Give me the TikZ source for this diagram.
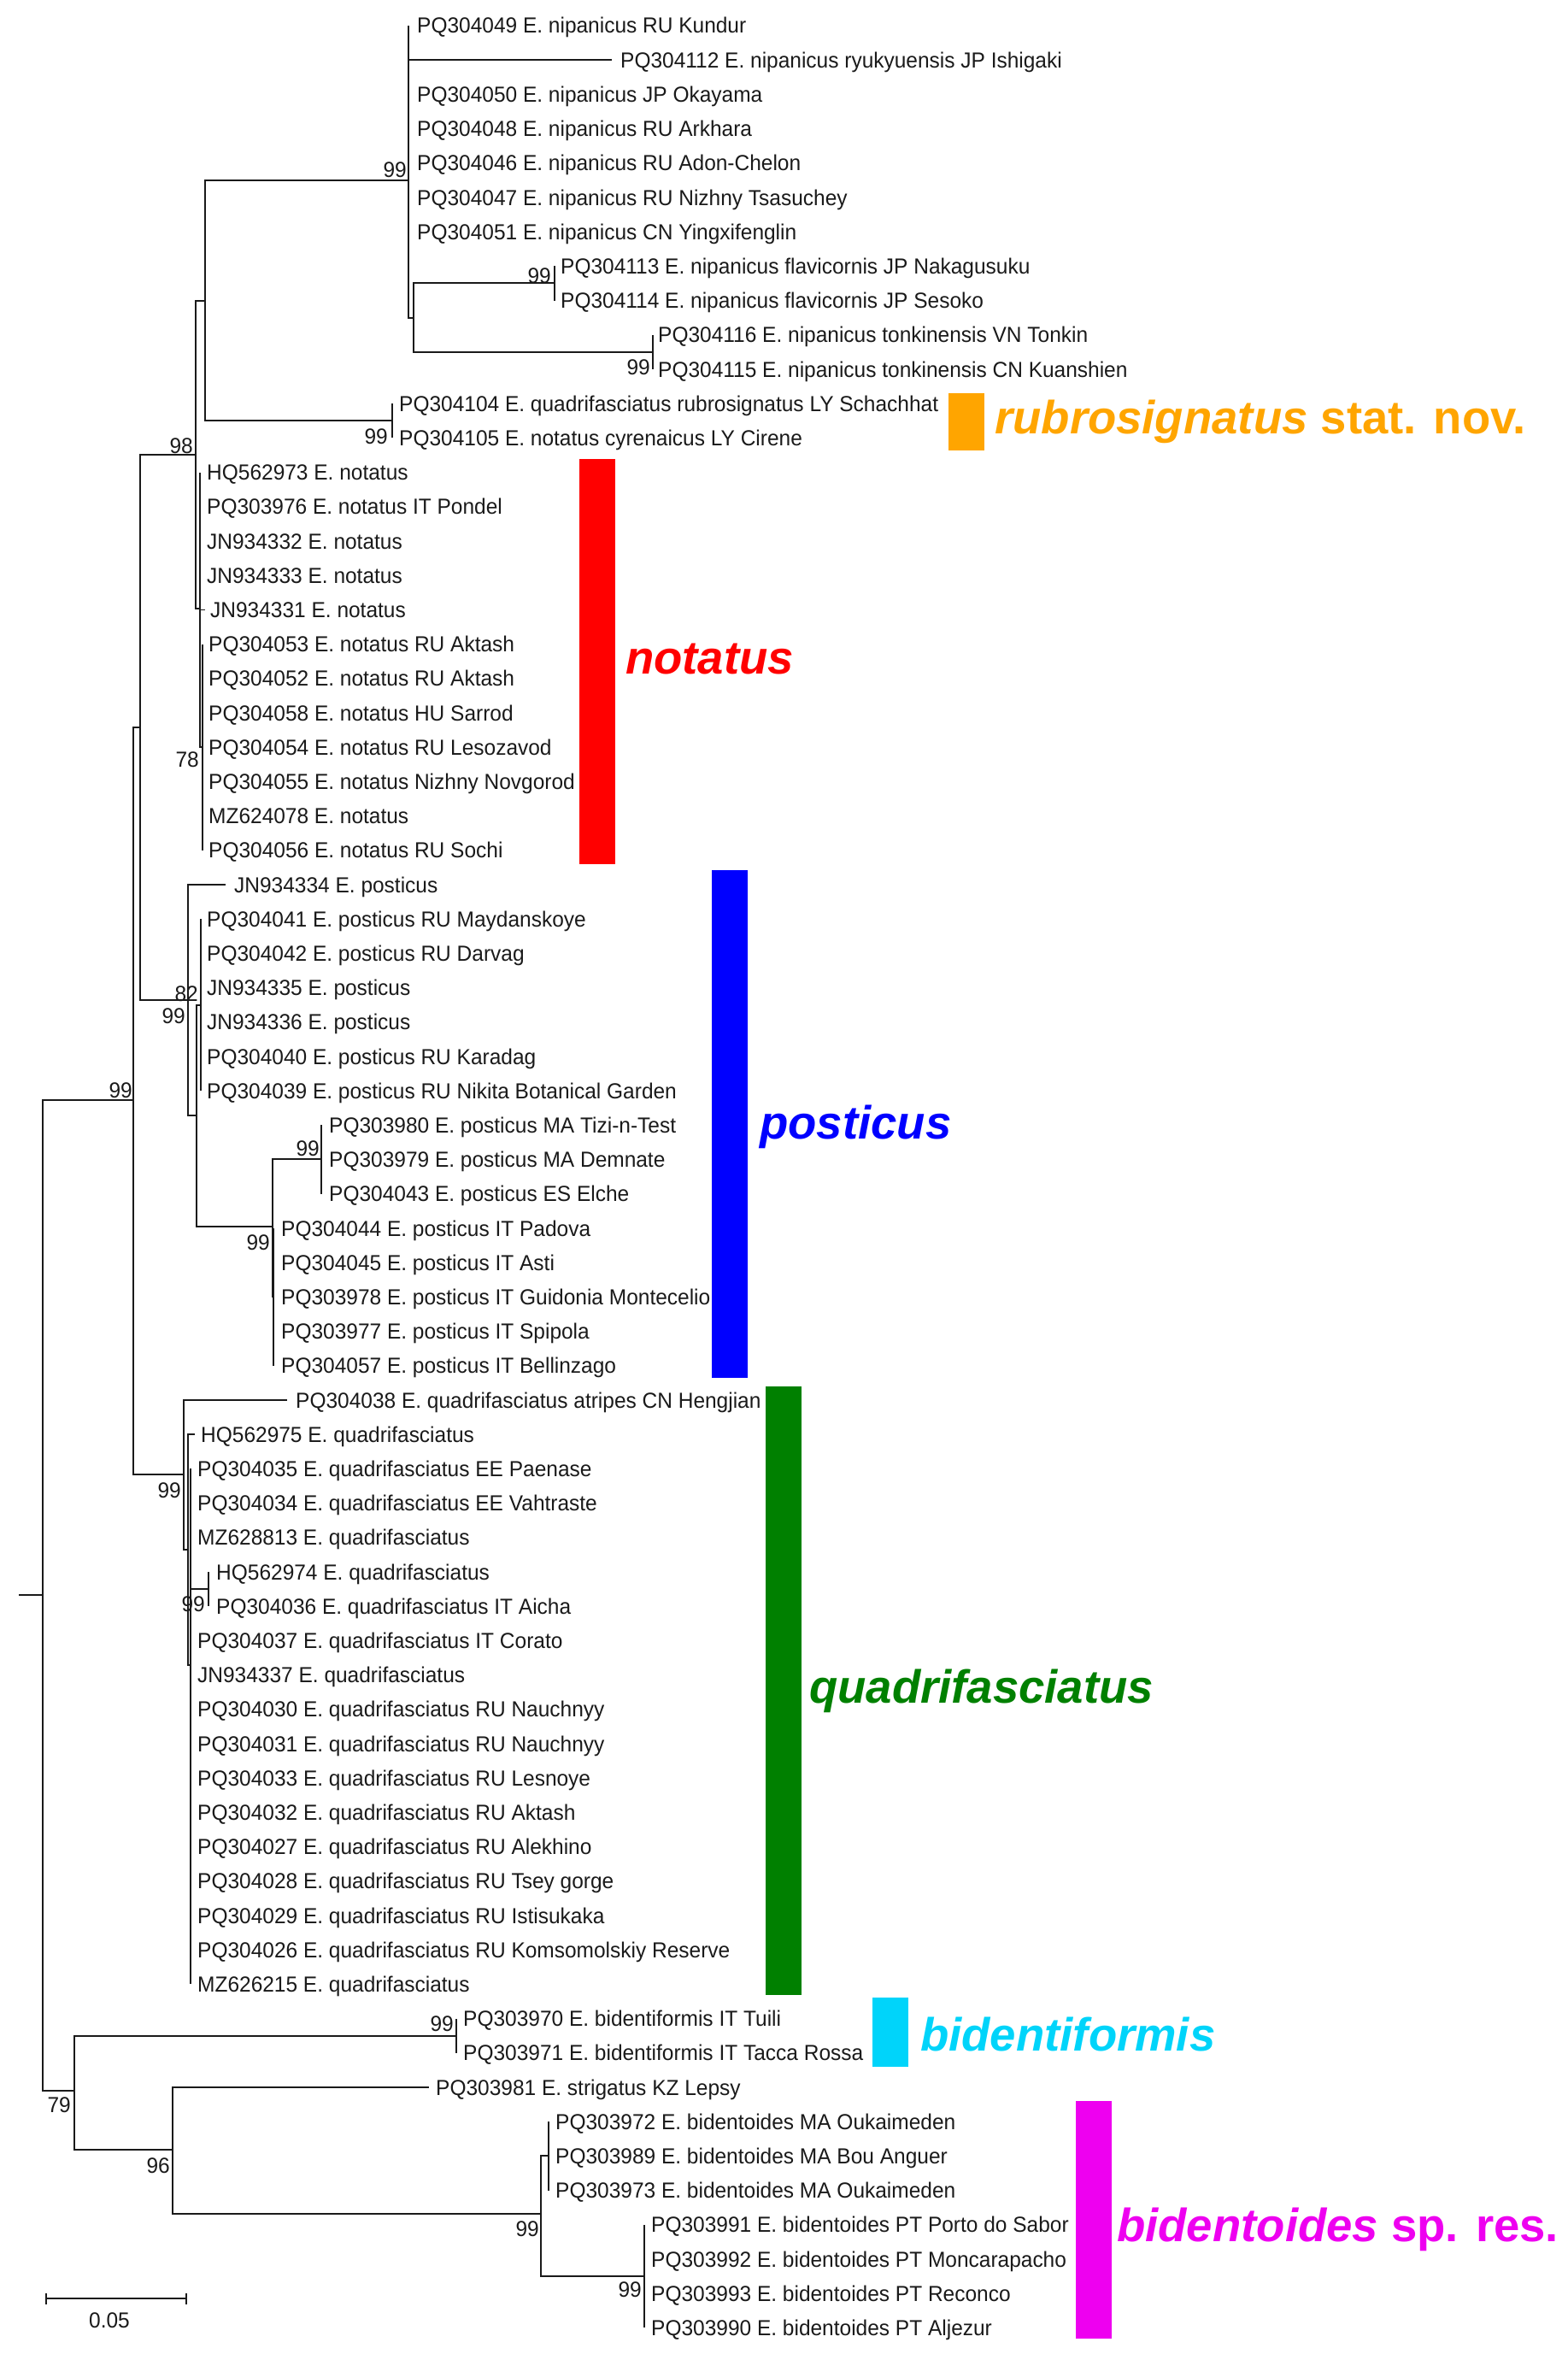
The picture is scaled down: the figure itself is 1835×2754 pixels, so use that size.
\documentclass[tikz,border=0pt]{standalone}
\usepackage{fontspec}
\setmainfont{Liberation Sans}
\newfontfamily\leaffont{Liberation Sans}[FakeStretch=0.96]
\usepackage{tikz}
\usetikzlibrary{positioning,arrows.meta}
\definecolor{RubroOrange}{HTML}{FFA500}
\definecolor{NotatusRed}{HTML}{FF0000}
\definecolor{PosticusBlue}{HTML}{0000FF}
\definecolor{QuadriGreen}{HTML}{008000}
\definecolor{BidfCyan}{HTML}{00D4FA}
\definecolor{BidtMagenta}{HTML}{EE00F0}
\definecolor{TreeInk}{HTML}{1A1A1A}

\begin{document}
\begin{tikzpicture}[x=1pt, y=-1pt,
  branch/.style={draw=TreeInk, line width=1.6pt},
  leaf/.style={anchor=base west, inner sep=0pt, text=TreeInk, font=\leaffont\fontsize{25.5}{28}\selectfont},
  boot/.style={anchor=base east, inner sep=0pt, text=TreeInk, font=\leaffont\fontsize{25.5}{28}\selectfont},
  bar/.style={minimum width=42pt, inner sep=0pt, outer sep=0pt},
  clade/.style={inner sep=0pt, text height=34pt, text depth=6pt, font=\fontsize{54.5}{58}\selectfont\bfseries}]
  \useasboundingbox (0,0) rectangle (1835,2754);

  % internal nodes of the tree
  \foreach \nm/\x/\y in {root/50/1866, n99a/156/1287, p1/164/851, n98/229/532,
      u/240/352, nip/478/211, nsub/484/372, flav/649/331, tonk/764/412,
      rubro/459/492, notN/234/712, n78/237/874, post/220/1170, psub/230/1305,
      pz/235/1176, pw/319/1435, ma/376/1356, pv/320/1517, Q/215/1725,
      qa/220/1813, qb/223/1948, qc/244/1859, n79/87/2446, bidf/534/2382,
      n96/202/2515, bid/633/2590, maB/642/2522, pt/754/2663}
    \coordinate (\nm) at (\x,\y);
  \coordinate (rootin) at (22,1866);

  % leaves: tip x / label x / text
  \foreach \i/\tx/\lx/\txt in {
      1/478/488/{PQ304049 E. nipanicus RU Kundur},
      2/716/726/{PQ304112 E. nipanicus ryukyuensis JP Ishigaki},
      3/478/488/{PQ304050 E. nipanicus JP Okayama},
      4/478/488/{PQ304048 E. nipanicus RU Arkhara},
      5/478/488/{PQ304046 E. nipanicus RU Adon-Chelon},
      6/478/488/{PQ304047 E. nipanicus RU Nizhny Tsasuchey},
      7/478/488/{PQ304051 E. nipanicus CN Yingxifenglin},
      8/649/656/{PQ304113 E. nipanicus flavicornis JP Nakagusuku},
      9/649/656/{PQ304114 E. nipanicus flavicornis JP Sesoko},
      10/764/770/{PQ304116 E. nipanicus tonkinensis VN Tonkin},
      11/764/770/{PQ304115 E. nipanicus tonkinensis CN Kuanshien},
      12/459/467/{PQ304104 E. quadrifasciatus rubrosignatus LY Schachhat},
      13/459/467/{PQ304105 E. notatus cyrenaicus LY Cirene},
      14/234/242/{HQ562973 E. notatus},
      15/234/242/{PQ303976 E. notatus IT Pondel},
      16/234/242/{JN934332 E. notatus},
      17/234/242/{JN934333 E. notatus},
      18/240/246/{JN934331 E. notatus},
      19/237/244/{PQ304053 E. notatus RU Aktash},
      20/237/244/{PQ304052 E. notatus RU Aktash},
      21/237/244/{PQ304058 E. notatus HU Sarrod},
      22/237/244/{PQ304054 E. notatus RU Lesozavod},
      23/237/244/{PQ304055 E. notatus Nizhny Novgorod},
      24/237/244/{MZ624078 E. notatus},
      25/237/244/{PQ304056 E. notatus RU Sochi},
      26/264/274/{JN934334 E. posticus},
      27/235/242/{PQ304041 E. posticus RU Maydanskoye},
      28/235/242/{PQ304042 E. posticus RU Darvag},
      29/235/242/{JN934335 E. posticus},
      30/235/242/{JN934336 E. posticus},
      31/235/242/{PQ304040 E. posticus RU Karadag},
      32/235/242/{PQ304039 E. posticus RU Nikita Botanical Garden},
      33/376/385/{PQ303980 E. posticus MA Tizi-n-Test},
      34/376/385/{PQ303979 E. posticus MA Demnate},
      35/376/385/{PQ304043 E. posticus ES Elche},
      36/320/329/{PQ304044 E. posticus IT Padova},
      37/320/329/{PQ304045 E. posticus IT Asti},
      38/320/329/{PQ303978 E. posticus IT Guidonia Montecelio},
      39/320/329/{PQ303977 E. posticus IT Spipola},
      40/320/329/{PQ304057 E. posticus IT Bellinzago},
      41/336/346/{PQ304038 E. quadrifasciatus atripes CN Hengjian},
      42/228/235/{HQ562975 E. quadrifasciatus},
      43/223/231/{PQ304035 E. quadrifasciatus EE Paenase},
      44/223/231/{PQ304034 E. quadrifasciatus EE Vahtraste},
      45/223/231/{MZ628813 E. quadrifasciatus},
      46/244/253/{HQ562974 E. quadrifasciatus},
      47/244/253/{PQ304036 E. quadrifasciatus IT Aicha},
      48/223/231/{PQ304037 E. quadrifasciatus IT Corato},
      49/223/231/{JN934337 E. quadrifasciatus},
      50/223/231/{PQ304030 E. quadrifasciatus RU Nauchnyy},
      51/223/231/{PQ304031 E. quadrifasciatus RU Nauchnyy},
      52/223/231/{PQ304033 E. quadrifasciatus RU Lesnoye},
      53/223/231/{PQ304032 E. quadrifasciatus RU Aktash},
      54/223/231/{PQ304027 E. quadrifasciatus RU Alekhino},
      55/223/231/{PQ304028 E. quadrifasciatus RU Tsey gorge},
      56/223/231/{PQ304029 E. quadrifasciatus RU Istisukaka},
      57/223/231/{PQ304026 E. quadrifasciatus RU Komsomolskiy Reserve},
      58/223/231/{MZ626215 E. quadrifasciatus},
      59/534/542/{PQ303970 E. bidentiformis IT Tuili},
      60/534/542/{PQ303971 E. bidentiformis IT Tacca Rossa},
      61/502/510/{PQ303981 E. strigatus KZ Lepsy},
      62/642/650/{PQ303972 E. bidentoides MA Oukaimeden},
      63/642/650/{PQ303989 E. bidentoides MA Bou Anguer},
      64/642/650/{PQ303973 E. bidentoides MA Oukaimeden},
      65/754/762/{PQ303991 E. bidentoides PT Porto do Sabor},
      66/754/762/{PQ303992 E. bidentoides PT Moncarapacho},
      67/754/762/{PQ303993 E. bidentoides PT Reconco},
      68/754/762/{PQ303990 E. bidentoides PT Aljezur}}{
    \coordinate (t\i) at (\tx,{30+(\i-1)*40.2});
    \node[leaf] (l\i) at (\lx,{39+(\i-1)*40.2}) {\txt};
  }

  % branches between internal nodes
  \draw[branch] (rootin) -- (root);
  \foreach \p/\c in {root/n99a, root/n79, n99a/p1, n99a/Q, p1/n98, p1/post,
      n98/u, n98/notN, u/nip, u/rubro, nip/nsub, nsub/flav, nsub/tonk,
      notN/n78, post/psub, psub/pz, psub/pw, pw/ma, pw/pv, Q/qa, qa/qb, qb/qc,
      n79/bidf, n79/n96, n96/bid, bid/maB, bid/pt}
    \draw[branch] (\p) |- (\c);

  % branches to the leaves
  \foreach \p/\a/\b in {nip/1/7, flav/8/9, tonk/10/11, rubro/12/13, notN/14/18,
      n78/19/25, post/26/26, pz/27/32, ma/33/35, pv/36/40, Q/41/41, qa/42/42,
      qb/43/45, qc/46/47, qb/48/58, bidf/59/60, n96/61/61, maB/62/64, pt/65/68}
    \foreach \c in {\a,...,\b}
      \draw[branch] (\p) |- (t\c);

  % bootstrap values
  \foreach \nm/\x/\y/\v in {n99a/155/1284/99, n98/226/530/98, nip/476/207/99,
      flav/645/331/99, tonk/761/438/99, rubro/454/519/99, n78/233/897/78,
      post/217/1197/99, pz/232/1171/82, pw/316/1462/99, ma/374/1352/99,
      Q/212/1752/99, qc/240/1885/99, n79/83/2471/79, bidf/531/2376/99,
      n96/199/2542/96, bid/631/2616/99, pt/751/2687/99}
    \node[boot] (bs\nm) at (\x,\y) {\v};

  % clade bars and names
  \node[bar, fill=RubroOrange, minimum height=67pt] (barrub) at (1131,493) {};
  \node[bar, fill=NotatusRed, minimum height=474pt] (barnot) at (699,774) {};
  \node[bar, fill=PosticusBlue, minimum height=594pt] (barpos) at (854,1315) {};
  \node[bar, fill=QuadriGreen, minimum height=712pt] (barqua) at (917,1978) {};
  \node[bar, fill=BidfCyan, minimum height=81pt] (barbdf) at (1042,2377) {};
  \node[bar, fill=BidtMagenta, minimum height=278pt] (barbdt) at (1280,2597) {};
  \node[clade, text=RubroOrange, right=12pt of barrub] (labrub) {\textit{rubrosignatus} stat. nov.};
  \node[clade, text=NotatusRed, right=12pt of barnot] (labnot) {\textit{notatus}};
  \node[clade, text=PosticusBlue, right=14pt of barpos, yshift=-3pt] (labpos) {\textit{posticus}};
  \node[clade, text=QuadriGreen, right=9pt of barqua] (labqua) {\textit{quadrifasciatus}};
  \node[clade, text=BidfCyan, right=14pt of barbdf, yshift=-8pt] (labbdf) {\textit{bidentiformis}};
  \node[clade, text=BidtMagenta, right=6pt of barbdt, yshift=-11pt] (labbdt) {\textit{bidentoides} sp. res.};

  % scale bar
  \coordinate (sbl) at (53,2689);
  \coordinate (sbr) at (219,2689);
  \draw[branch, {Bar[width=13pt]}-{Bar[width=13pt]}] (sbl) -- (sbr);
  \node[leaf, anchor=base] (sblab) at (128,2723) {0.05};
\end{tikzpicture}
\end{document}
